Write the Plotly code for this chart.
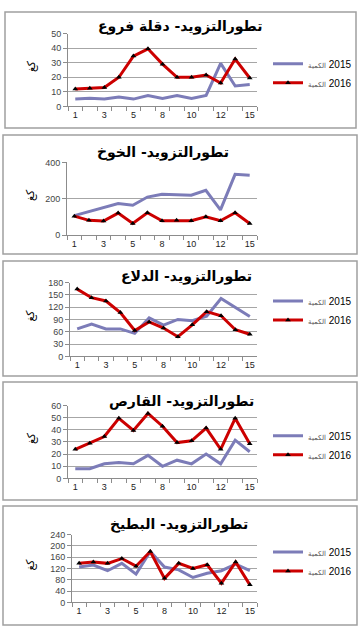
import plotly.graph_objects as go

W, H = 361, 633

# ---------------- data ----------------
days = ['1', '2', '3', '4', '5', '7', '8', '9', '10', '11', '12', '14', '15']
tick_labels = ['1', '', '3', '', '5', '', '8', '', '10', '', '12', '', '15']

titles = [
    "تطورالتزويد- دقلة فروع",
    "تطورالتزويد- الخوخ",
    "تطورالتزويد- الدلاع",
    "تطورالتزويد- القارص",
    "تطورالتزويد- البطيخ",
]
qty_word = "الكمية"
years = ["2015", "2016"]
y_unit = "كغ"

deglet_2015 = [5, 5.5, 5, 6.5, 5, 7.5, 5.5, 7.5, 5.5, 7.5, 29.5, 14, 15]
deglet_2016 = [12, 12.5, 13, 20, 34.5, 39.5, 29, 20, 20, 21.5, 16, 32.5, 19.5]

peach_2015 = [108, 130, 152, 175, 165, 210, 225, 222, 220, 247, 140, 335, 330]
peach_2016 = [105, 82, 78, 122, 65, 124, 80, 82, 80, 102, 80, 124, 65]

melon_2015 = [67, 79, 67, 67, 56, 94, 76, 90, 87, 98, 141, 119, 97]
melon_2016 = [164, 143, 135, 107, 63, 84, 69, 48, 77, 109, 99, 65, 54]

karis_2015 = [8, 8, 12, 13, 12, 19, 10, 15, 12, 20, 12, 31.5, 22]
karis_2016 = [24, 29, 34.5, 49.5, 39.5, 53.5, 43, 29.5, 31, 41.5, 24, 49.5, 28.5]

watermelon_2015 = [125, 132, 112, 138, 100, 180, 125, 115, 88, 103, 112, 135, 112]
watermelon_2016 = [138, 143, 138, 155, 128, 180, 85, 138, 120, 133, 68, 143, 62]

y_max = [50, 400, 180, 60, 240]
y_dtick = [10, 200, 30, 10, 40]

data_2015 = [deglet_2015, peach_2015, melon_2015, karis_2015, watermelon_2015]
data_2016 = [deglet_2016, peach_2016, melon_2016, karis_2016, watermelon_2016]

# ---------------- layout geometry (pixels) ----------------
boxes = [(5, 7, 356, 125), (3, 132, 357, 253), (3, 260, 357, 377),
         (3, 383, 357, 503), (3, 509, 357, 630)]
plots = [(68, 29, 257, 103), (67, 160, 257, 234), (70, 282, 257, 357),
         (68, 407, 257, 481), (72, 538, 257, 607)]
title_pos = [(180, 22), (163, 150), (186, 276), (181, 403), (179, 528)]
legend_top = [45, None, 286, 423, 541]

BLUE = "#7C7CB8"
RED = "#CC0000"
GRID = "#A6A6A6"
AX = "#8C8C8C"


def fx(x):
    return x / W


def fy(y):
    return 1 - y / H


def legend_name(year):
    return ('<span style="font-size:7px;color:#555">' + qty_word +
            '</span>\u200e ' + year)


fig = go.Figure()
layout = dict(width=W, height=H, margin=dict(l=0, r=0, t=0, b=0),
              paper_bgcolor="white", plot_bgcolor="white",
              shapes=[], annotations=[])

legend_keys = {0: "legend", 2: "legend2", 3: "legend3", 4: "legend4"}

for i in range(5):
    sfx = "" if i == 0 else str(i + 1)
    xa = "x" + sfx
    ya = "y" + sfx
    has_leg = i in legend_keys
    lg = legend_keys.get(i, "legend")
    fig.add_trace(go.Scatter(
        x=days, y=data_2015[i], xaxis=xa, yaxis=ya, mode="lines",
        name=legend_name(years[0]), line=dict(color=BLUE, width=3),
        showlegend=has_leg, legend=lg))
    fig.add_trace(go.Scatter(
        x=days, y=data_2016[i], xaxis=xa, yaxis=ya, mode="lines+markers",
        name=legend_name(years[1]), line=dict(color=RED, width=3),
        marker=dict(symbol="triangle-up", size=5, color="black"),
        showlegend=has_leg, legend=lg))

    x0, y0, x1, y1 = plots[i]
    layout["xaxis" + sfx] = dict(
        domain=[fx(x0), fx(x1)], anchor=ya, type="category",
        categoryorder="array", categoryarray=days,
        tickmode="array", tickvals=days, ticktext=tick_labels,
        tickson="boundaries", ticks="outside", ticklen=4, tickcolor=AX,
        showline=True, linecolor=AX, linewidth=1, showgrid=False,
        range=[-0.5, 12.5], fixedrange=True, tickangle=0,
        tickfont=dict(family="Liberation Sans, Arial", size=9, color="#222"))
    layout["yaxis" + sfx] = dict(
        domain=[fy(y1), fy(y0)], anchor=xa, range=[0, y_max[i]],
        dtick=y_dtick[i], tick0=0, ticks="outside", ticklen=4, tickcolor=AX,
        showline=True, linecolor=AX, linewidth=1, showgrid=True,
        gridcolor=GRID, gridwidth=1, zeroline=False, fixedrange=True,
        tickfont=dict(family="Liberation Sans, Arial", size=9, color="#444"))

    bx0, by0, bx1, by1 = boxes[i]
    layout["shapes"].append(dict(
        type="rect", xref="paper", yref="paper",
        x0=fx(bx0), x1=fx(bx1), y0=fy(by1), y1=fy(by0),
        line=dict(color="#A0A0A0", width=1.5), layer="below"))

    tx, ty = title_pos[i]
    layout["annotations"].append(dict(
        text="<b>" + titles[i] + "</b>", xref="paper", yref="paper",
        x=fx(tx), y=fy(ty), xanchor="center", yanchor="middle",
        showarrow=False,
        font=dict(family="DejaVu Sans, Arial", size=14, color="black")))
    layout["annotations"].append(dict(
        text=y_unit, xref="paper", yref="paper",
        x=fx(31), y=fy((y0 + y1) / 2 - 4), xanchor="center", yanchor="middle",
        textangle=-90, showarrow=False,
        font=dict(family="DejaVu Sans, Arial", size=11, color="black")))

    if has_leg:
        layout[lg] = dict(
            x=fx(268), y=fy(legend_top[i]), xanchor="left", yanchor="top",
            bgcolor="rgba(0,0,0,0)", itemwidth=30, tracegroupgap=0,
            font=dict(family="Liberation Sans, Arial", size=10, color="black"))

fig.update_layout(**layout)
fig.write_html("out.html", config={"displayModeBar": False},
               post_script="document.body.style.margin='0px';")
